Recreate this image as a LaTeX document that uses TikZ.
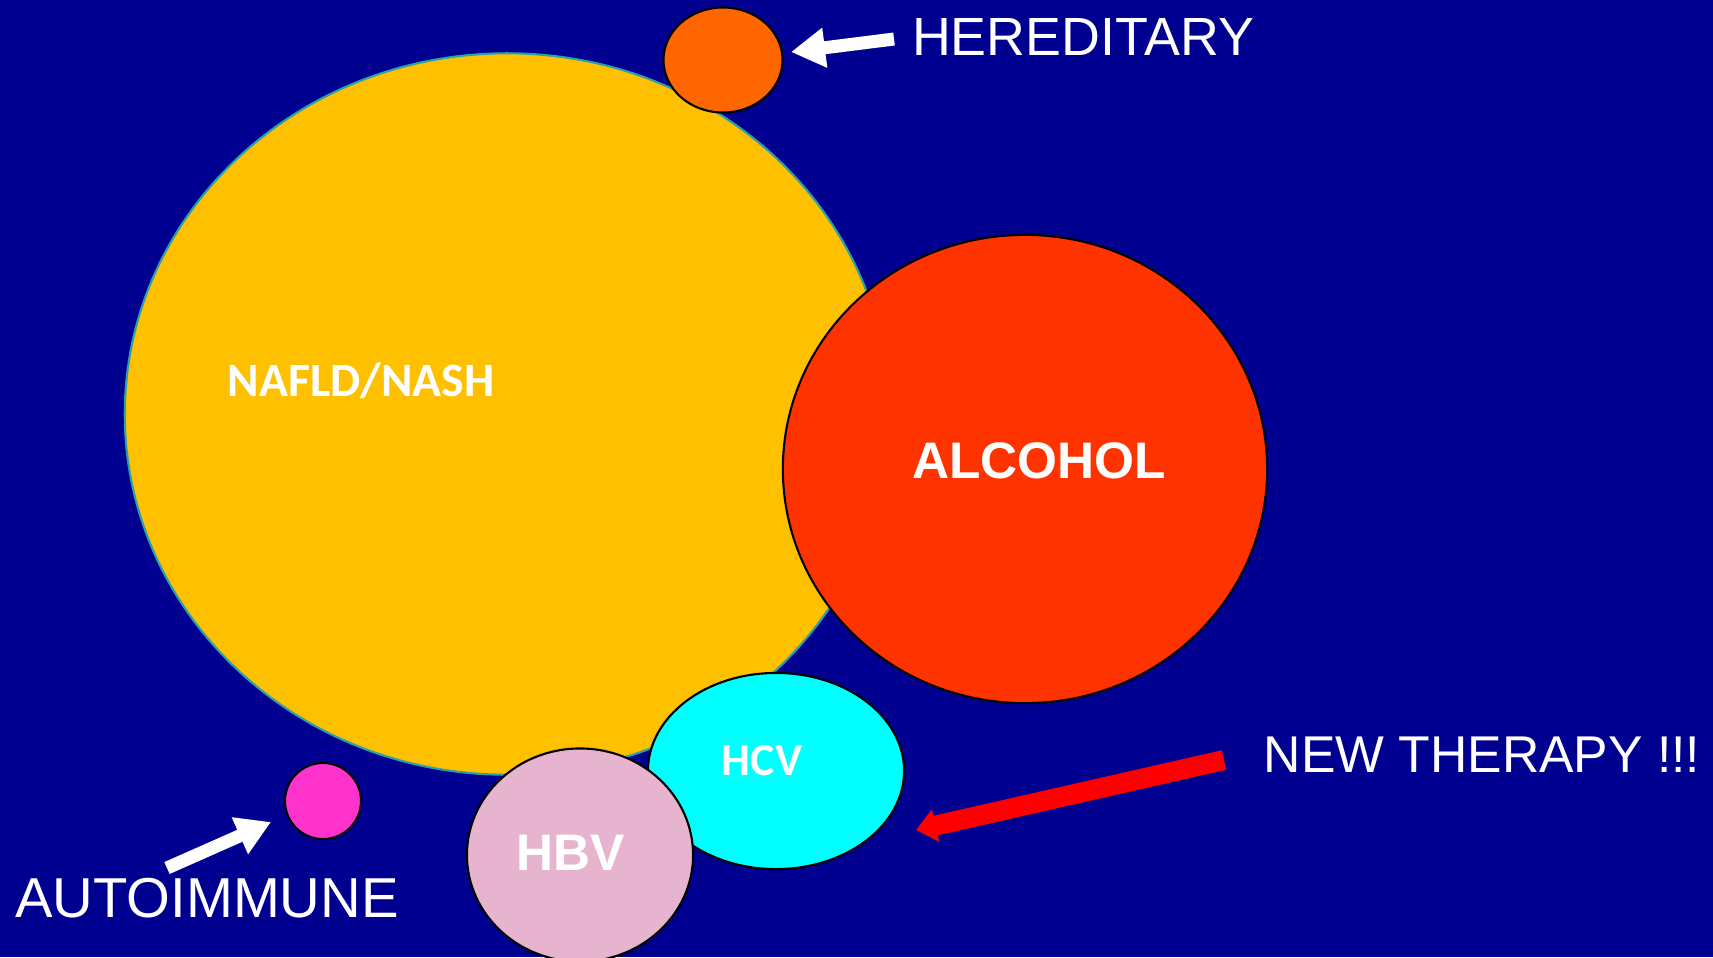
\documentclass[tikz,border=0pt]{standalone}
\usepackage{fontspec}
\setmainfont{Liberation Sans}
\newfontfamily\calibri{Carlito}
\usetikzlibrary{arrows.meta,positioning,shapes.geometric}
\definecolor{bgnavy}{HTML}{000090}
\definecolor{nafldc}{HTML}{FFC000}
\definecolor{nafldrim}{HTML}{2AA0A8}
\definecolor{alcoholc}{HTML}{FF3300}
\definecolor{heredc}{HTML}{FF6600}
\definecolor{hcvc}{HTML}{00FFFF}
\definecolor{hbvc}{HTML}{E6B4CE}
\definecolor{autoc}{HTML}{FF33CC}
\definecolor{redarrow}{HTML}{FF0000}
\tikzset{
  blob/.style    = {draw=black, line width=0.6pt, ellipse, inner sep=0pt},
  hand/.style    = {text=white, inner sep=0pt, anchor=center},
  pointer/.style = {draw=white, line width=0.13cm,
                    -{Triangle[length=0.34cm,width=0.38cm]}},
}
\begin{document}
\begin{tikzpicture}[x=0.01cm,y=-0.01cm]
\fill[bgnavy] (0,0) rectangle (1713,957);
\useasboundingbox (0,0) rectangle (1713,957);
% disease bubbles
\node[blob, draw=nafldrim, fill=nafldc, minimum width=7.64cm, minimum height=7.21cm] (nafld) at (507,414) {};
\node[blob, fill=heredc, minimum width=1.19cm, minimum height=1.05cm] (hered) at (723,60) {};
\node[blob, fill=alcoholc, minimum width=4.84cm, minimum height=4.68cm] (alcohol) at (1025,469) {};
\node[blob, fill=hcvc, minimum width=2.56cm, minimum height=1.96cm] (hcv) at (776,771) {};
\node[blob, fill=hbvc, minimum width=2.26cm, minimum height=2.13cm] (hbv) at (580,855) {};
\node[blob, fill=autoc, minimum width=0.76cm, minimum height=0.76cm] (autoimm) at (323,801) {};
% labels
\node[hand, font=\calibri\bfseries\fontsize{13.6pt}{13.6pt}\selectfont] (nafldlbl) at (361,381) {NAFLD/NASH};
\node[hand, font=\bfseries\fontsize{14.6pt}{14.6pt}\selectfont] (alcohollbl) at (1039,461) {ALCOHOL};
\node[hand, font=\calibri\bfseries\fontsize{13pt}{13pt}\selectfont] (hcvlbl) at (762,761) {HCV};
\node[hand, font=\bfseries\fontsize{14.6pt}{14.6pt}\selectfont] (hbvlbl) at (571,853) {HBV};
\node[hand, font=\fontsize{15.3pt}{15.3pt}\selectfont] (heredlbl) at (1083,37) {HEREDITARY};
\node[hand, font=\fontsize{16pt}{16pt}\selectfont] (autolbl) at (207,898) {AUTOIMMUNE};
\node[hand, font=\fontsize{14.7pt}{14.7pt}\selectfont] (therapylbl) at (1482,755) {NEW THERAPY !!!};
% arrows
\coordinate (heredtail) at (894,39);
\coordinate (heredtip) at (791,52);
\coordinate (autotail) at (167,868);
\coordinate (autotip) at (271,822);
\coordinate (therapytail) at (1224,760);
\coordinate (therapytip) at (916,830);
\draw[pointer] (heredtail) -- (heredtip);
\draw[pointer] (autotail) -- (autotip);
\draw[pointer, draw=redarrow, line width=0.2cm,
      -{Triangle[length=0.2cm,width=0.32cm]}] (therapytail) -- (therapytip);
\end{tikzpicture}
\end{document}
